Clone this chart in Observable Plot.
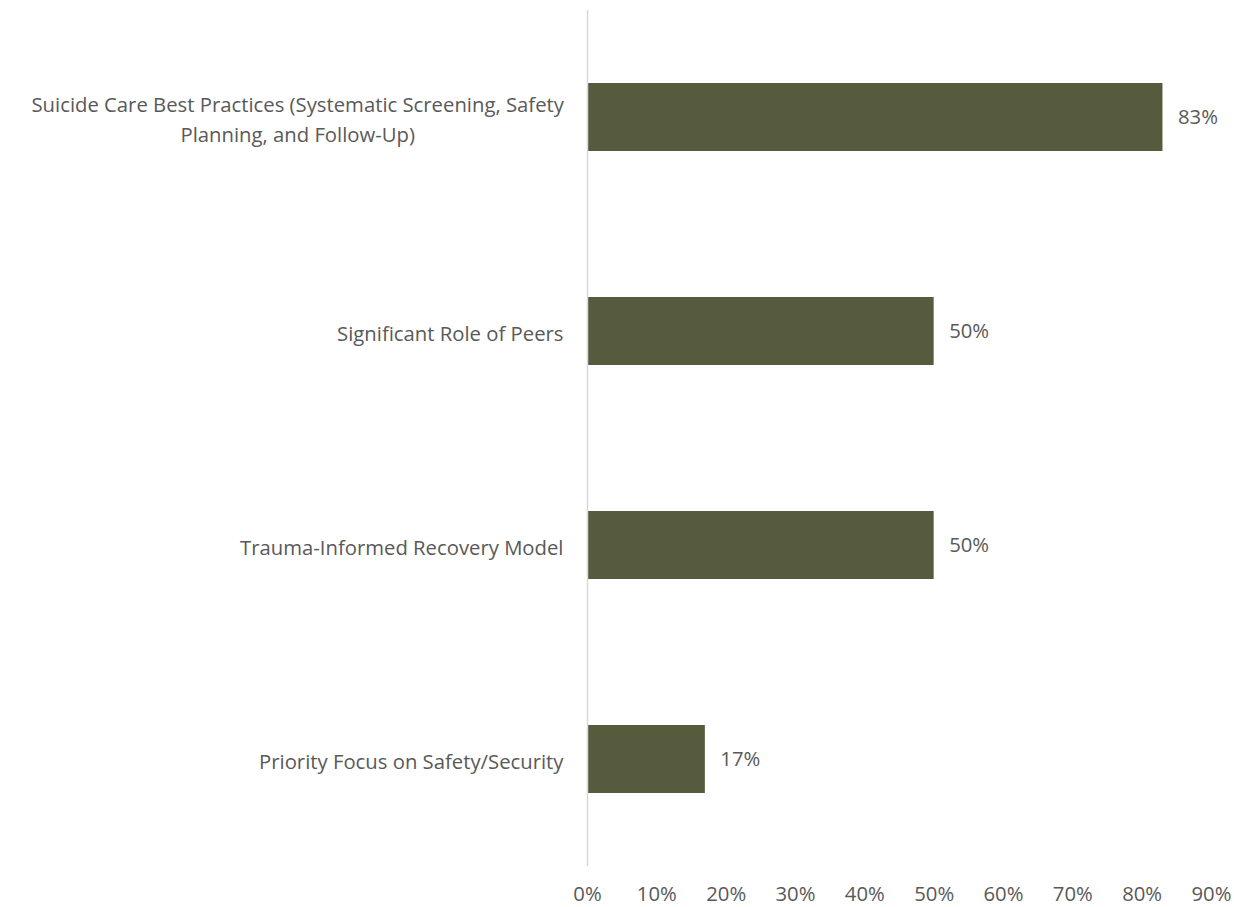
<!DOCTYPE html>
<html>
<head>
<meta charset="utf-8">
<script src="https://cdn.jsdelivr.net/npm/d3@7"></script>
<script src="https://cdn.jsdelivr.net/npm/@observablehq/plot@0.6"></script>
<style>
  html, body { margin: 0; padding: 0; background: #ffffff; }
  #chart svg { display: block; }
</style>
</head>
<body>
<div id="chart"></div>
<script>
const categories = [
  "Suicide Care Best Practices (Systematic Screening, Safety\nPlanning, and Follow-Up)",
  "Significant Role of Peers",
  "Trauma-Informed Recovery Model",
  "Priority Focus on Safety/Security"
];
const values = [0.83, 0.50, 0.50, 0.17];
const xTicks = [0, 0.1, 0.2, 0.3, 0.4, 0.5, 0.6, 0.7, 0.8, 0.9];

const data = categories.map((c, i) => ({category: c, value: values[i]}));

const textColor = "#595959";
const barColor = "#575B3E";
const fontFamily = "'Open Sans', 'Noto Sans', sans-serif";
const fs = 20.3;

const chart = Plot.plot({
  width: 1234,
  height: 907,
  marginLeft: 587,
  marginRight: 23,
  marginTop: 10,
  marginBottom: 41,
  style: {fontFamily, fontSize: fs + "px", color: textColor, background: "#ffffff"},
  x: {domain: [0, 0.9], axis: null},
  y: {domain: categories, paddingInner: 0.68, paddingOuter: 0.34, axis: null},
  marks: [
    Plot.barX(data, {x: "value", y: "category", fill: barColor}),
    Plot.ruleX([0], {stroke: "#d9d9d9", strokeWidth: 1.5}),
    Plot.text(data, {
      x: "value", y: "category", text: d => `${Math.round(d.value * 100)}%`,
      textAnchor: "start", dx: 15, fill: textColor, fontSize: fs
    }),
    Plot.axisX(xTicks, {
      tickSize: 0, tickPadding: 20, tickFormat: d => `${Math.round(d * 100)}%`,
      fill: textColor, fontSize: fs, label: null
    }),
    Plot.axisY({
      tickSize: 0, tickPadding: 24, fill: textColor, fontSize: fs,
      label: null, lineAnchor: "middle", lineHeight: 1.45
    })
  ]
});

document.getElementById("chart").appendChild(chart);

// Center lines of multi-line labels within their right-aligned block
chart.querySelectorAll("text").forEach(t => {
  const spans = t.querySelectorAll("tspan");
  if (spans.length > 1) {
    const bb = t.getBBox();
    t.setAttribute("text-anchor", "middle");
    spans.forEach(s => s.setAttribute("x", bb.x + bb.width / 2));
  }
});
</script>
</body>
</html>
